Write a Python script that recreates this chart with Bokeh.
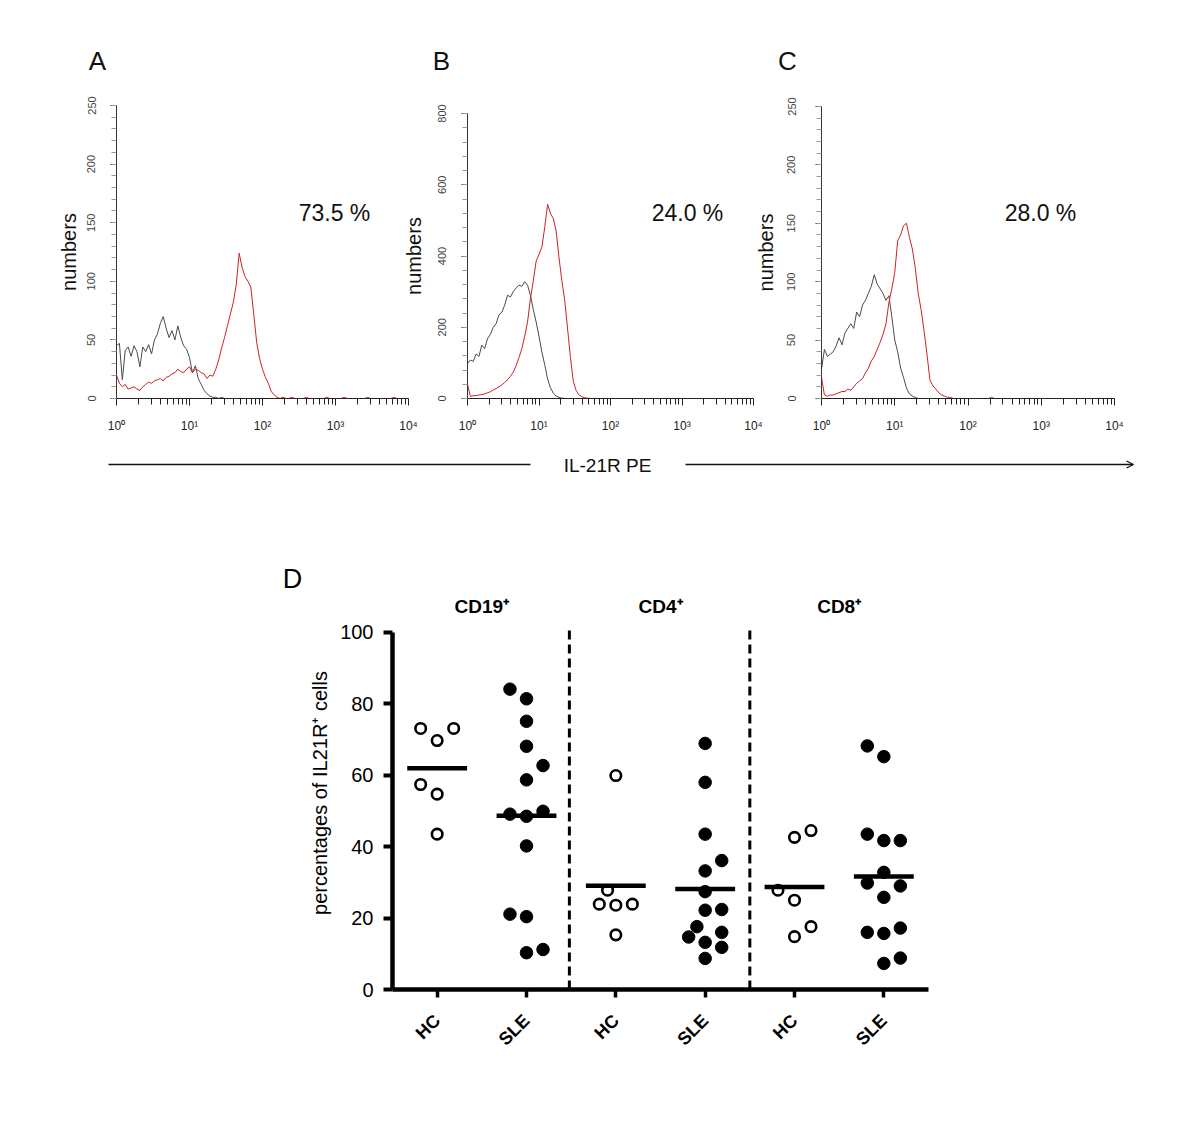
import numpy as np
from bokeh.plotting import figure
from bokeh.layouts import column, row
from bokeh.models import Range1d, FixedTicker, Label, Arrow, OpenHead, ColumnDataSource
from bokeh.embed import file_html
from bokeh.resources import INLINE

FONT = "Liberation Sans"

# ---------------- data: flow cytometry histograms ----------------
# channel bins of 0.04 decade from 10^0 to 10^4 (101 channels)
channel_log = [k * 0.04 for k in range(101)]

A_isotype = [45, 47, 16, 41, 44, 36, 45, 40, 27, 44,
             40, 46, 38, 50, 55, 64, 70, 60, 52, 58,
             50, 62, 52, 45, 42, 35, 22, 28, 17, 12,
             7, 4, 2, 1, 1, 0, 1, 0, 0, 0,
             0, 0, 0, 0, 0, 0, 0, 0, 0, 0,
             0, 0, 0, 0, 0, 0, 0, 0, 0, 0,
             0, 0, 0, 0, 0, 0, 0, 0, 0, 0,
             0, 0, 0, 0, 0, 0, 0, 0, 0, 0,
             0, 0, 0, 0, 0, 0, 0, 0, 0, 0,
             0, 0, 0, 0, 0, 0, 0, 0, 0, 0,
             0]
A_il21r = [20, 13, 10, 12, 8, 9, 10, 8, 7, 10,
           12, 14, 13, 15, 16, 17, 15, 18, 19, 21,
           22, 25, 23, 22, 25, 27, 22, 25, 24, 22,
           21, 17, 20, 19, 25, 33, 43, 52, 62, 72,
           82, 97, 124, 112, 104, 100, 95, 72, 48, 34,
           25, 18, 13, 6, 3, 1, 0, 1, 0, 0,
           1, 0, 0, 0, 0, 1, 0, 0, 0, 0,
           0, 0, 1, 0, 0, 0, 0, 0, 1, 0,
           0, 0, 0, 0, 0, 0, 1, 0, 0, 0,
           0, 0, 0, 0, 0, 1, 0, 0, 0, 0,
           0]
B_isotype = [98, 108, 104, 125, 118, 150, 140, 168, 180, 200,
             210, 235, 242, 262, 290, 285, 300, 310, 318, 315,
             328, 318, 290, 250, 215, 175, 130, 95, 55, 30,
             15, 7, 3, 1, 0, 0, 0, 0, 0, 0,
             0, 0, 0, 0, 0, 0, 0, 0, 0, 0,
             0, 0, 0, 0, 0, 0, 0, 0, 0, 0,
             0, 0, 0, 0, 0, 0, 0, 0, 0, 0,
             0, 0, 0, 0, 0, 0, 0, 0, 0, 0,
             0, 0, 0, 0, 0, 0, 0, 0, 0, 0,
             0, 0, 0, 0, 0, 0, 0, 0, 0, 0,
             0]
B_il21r = [40, 6, 8, 8, 10, 11, 13, 16, 19, 24,
           28, 33, 38, 45, 53, 62, 74, 92, 115, 140,
           175, 215, 280, 330, 385, 405, 425, 480, 545, 520,
           505, 470, 395, 330, 275, 195, 115, 48, 22, 10,
           5, 2, 1, 0, 0, 0, 0, 0, 0, 0,
           0, 0, 0, 0, 0, 0, 0, 0, 0, 0,
           0, 0, 0, 0, 0, 0, 0, 0, 0, 0,
           0, 0, 0, 0, 0, 0, 0, 0, 0, 0,
           0, 0, 0, 0, 0, 0, 0, 0, 0, 0,
           0, 0, 0, 0, 0, 0, 0, 0, 0, 0,
           0]
C_isotype = [25, 42, 36, 38, 40, 45, 52, 46, 56, 60,
             64, 60, 74, 70, 80, 84, 90, 96, 106, 98,
             94, 90, 84, 88, 70, 50, 40, 26, 18, 9,
             4, 2, 1, 0, 0, 0, 0, 0, 0, 0,
             0, 0, 0, 0, 0, 0, 0, 0, 0, 0,
             0, 0, 0, 0, 0, 0, 0, 0, 0, 0,
             0, 0, 0, 0, 0, 0, 0, 0, 0, 0,
             0, 0, 0, 0, 0, 0, 0, 0, 0, 0,
             0, 0, 0, 0, 0, 0, 0, 0, 0, 0,
             0, 0, 0, 0, 0, 0, 0, 0, 0, 0,
             0]
C_il21r = [18, 3, 2, 3, 3, 4, 5, 6, 6, 8,
           7, 10, 13, 15, 17, 22, 26, 32, 36, 42,
           48, 55, 64, 82, 94, 108, 135, 140, 148, 150,
           138, 128, 112, 90, 76, 58, 38, 16, 11, 8,
           5, 3, 2, 1, 1, 0, 0, 0, 0, 0,
           0, 0, 0, 0, 0, 0, 0, 0, 1, 0,
           0, 0, 0, 0, 0, 0, 0, 0, 0, 0,
           0, 0, 0, 0, 0, 0, 0, 0, 0, 0,
           0, 0, 0, 0, 0, 0, 0, 0, 0, 0,
           0, 0, 0, 0, 0, 0, 0, 0, 0, 0,
           0]

panel_letters = ["A", "B", "C"]
percent_texts = ["73.5 %", "24.0 %", "28.0 %"]
count_max = [250, 800, 250]
count_step = [50, 200, 50]
x_decade_labels = ["10⁰", "10¹", "10²", "10³", "10⁴"]
x_title = "IL-21R PE"
y_title_hist = "numbers"

# ---------------- data: percentages of IL21R+ cells ----------------
groups = ["HC", "SLE", "HC", "SLE", "HC", "SLE"]
subsets = ["CD19⁺", "CD4⁺", "CD8⁺"]
cd19_hc = [73.1, 73.1, 69.7, 57.4, 54.7, 43.5]
cd19_sle = [84.1, 81.4, 75.1, 68.1, 62.7, 58.7, 49.1, 49.9, 48.5, 40.2, 21.1, 20.4, 10.3, 11.2]
cd4_hc = [59.9, 27.8, 23.9, 23.6, 23.9, 15.3]
cd4_sle = [68.9, 58.0, 43.5, 36.1, 33.2, 27.4, 22.2, 22.4, 17.6, 14.7, 16.0, 13.2, 11.8, 8.7]
cd8_hc = [42.6, 44.5, 27.8, 25.0, 14.8, 17.6]
cd8_sle = [68.2, 65.2, 43.5, 41.7, 41.7, 32.8, 29.8, 29.0, 25.8, 16.0, 15.7, 17.2, 7.3, 8.8]
# horizontal scatter slot of every point (column-scatter layout)
cd19_hc_slot = [-1, 1, 0, -1, 0, 0]
cd19_sle_slot = [-1, 0, 0, 0, 1, 0, -1, 1, 0, 0, -1, 0, 0, 1]
cd4_hc_slot = [0, -0.5, -1, 0, 1, 0]
cd4_sle_slot = [0, 0, 0, 1, 0, 0, 0, 1, -0.5, -1, 1, 0, 1, 0]
cd8_hc_slot = [0, 1, -1, 0, 0, 1]
cd8_sle_slot = [-1, 0, -1, 0, 1, 0, -1, 1, 0, -1, 0, 1, 0, 1]
y_title_d = "percentages of IL21R⁺ cells"

ROW_TOP = 88      # page y where the histogram row starts
ROW_BOTTOM = 440  # page y where it ends
D_TOP = 596       # page y where panel D starts


def strip(top, bottom):
    """A frameless full-width canvas whose data coordinates equal page pixels."""
    p = figure(width=1184, height=bottom - top, x_range=Range1d(8, 1192), y_range=Range1d(bottom, top),
               min_border=0, output_backend="svg", toolbar_location=None,
               x_axis_location=None, y_axis_location=None)
    p.outline_line_color = None
    p.grid.visible = False
    return p


def hist_panel(idx, isotype, il21r, frame_left, frame_right, frame_top,
               canvas_left, canvas_right, tick_standoff, axis_label_standoff):
    ymax = count_max[idx]
    step = count_step[idx]
    frame_bottom = 398
    fw = frame_right - frame_left
    fh = frame_bottom - frame_top
    p = figure(width=canvas_right - canvas_left, height=ROW_BOTTOM - ROW_TOP,
               x_axis_type="log", x_range=Range1d(1, 1e4), y_range=Range1d(0, ymax),
               min_border_left=frame_left - canvas_left, min_border_right=canvas_right - frame_right,
               min_border_top=frame_top - ROW_TOP, min_border_bottom=ROW_BOTTOM - frame_bottom,
               output_backend="svg", toolbar_location=None)
    p.outline_line_color = None
    p.grid.visible = False
    p.background_fill_alpha = 0
    p.border_fill_alpha = 0

    xs = [10 ** v for v in channel_log]
    p.line(xs, isotype, line_color="#4a4a4a", line_width=1)
    p.line(xs, il21r, line_color="#cc2222", line_width=1)

    decades = [1, 10, 100, 1000, 10000]
    minors = [m * d for d in decades[:-1] for m in range(2, 10)]
    xa = p.xaxis[0]
    xa.ticker = FixedTicker(ticks=decades, minor_ticks=minors)
    xa.major_label_overrides = {d: lab for d, lab in zip(decades, x_decade_labels)}
    xa.major_label_text_font = FONT
    xa.major_label_text_font_size = "12px"
    xa.major_label_text_color = "#222222"
    xa.major_label_standoff = 13
    xa.axis_line_color = "#222222"
    xa.major_tick_line_color = "#222222"
    xa.minor_tick_line_color = "#222222"
    xa.major_tick_out = 7
    xa.major_tick_in = 0
    xa.minor_tick_out = 6
    xa.minor_tick_in = 0

    ya = p.yaxis[0]
    ya.ticker = FixedTicker(ticks=list(range(0, ymax + 1, step)),
                            minor_ticks=list(range(0, ymax + 1, step // 5)))
    ya.major_label_orientation = "vertical"
    ya.major_label_text_font = FONT
    ya.major_label_text_font_size = "11px"
    ya.major_label_text_color = "#444444"
    ya.major_label_standoff = tick_standoff
    ya.axis_line_color = "#333333"
    ya.major_tick_line_color = "#333333"
    ya.minor_tick_line_color = "#999999"
    ya.major_tick_out = 6
    ya.major_tick_in = 0
    ya.minor_tick_out = 5
    ya.minor_tick_in = 0
    ya.axis_label = y_title_hist
    ya.axis_label_text_font = FONT
    ya.axis_label_text_font_style = "normal"
    ya.axis_label_text_font_size = "20px"
    ya.axis_label_text_color = "#111111"
    ya.axis_label_standoff = axis_label_standoff

    tx = 10 ** (4 * ([334, 687, 1040][idx] - frame_left) / fw)
    ty = (frame_bottom - 212) * ymax / fh
    p.add_layout(Label(x=tx, y=ty, text=percent_texts[idx], text_font=FONT, text_font_size="23px",
                       text_align="center", text_baseline="middle", text_color="#111111"))
    return p


# ---------------- top strip with panel letters ----------------
pT = strip(8, ROW_TOP)
for letter, px in zip(panel_letters, [97, 441, 787]):
    pT.add_layout(Label(x=px, y=60, text=letter, text_font=FONT, text_font_size="26px",
                        text_align="center", text_baseline="middle", text_color="#111111"))

# ---------------- histogram row ----------------
pA = hist_panel(0, A_isotype, A_il21r, 116, 408, 105, 8, 420, 15, 5)
pB = hist_panel(1, B_isotype, B_il21r, 467, 753, 113, 395, 770, 16, 10)
pC = hist_panel(2, C_isotype, C_il21r, 821, 1114, 106, 748, 1130, 20, 8)
hist_row = row(column(pA), column(pB, margin=(0, 0, 0, -25)), column(pC, margin=(0, 0, 0, -22)))

# ---------------- middle strip: shared x title arrow and letter D ----------------
pS = strip(ROW_BOTTOM, D_TOP)
pS.segment(x0=[108], y0=[464], x1=[530], y1=[464], line_color="#111111", line_width=1.3)
pS.add_layout(Arrow(end=OpenHead(size=7, line_width=1.3, line_color="#111111"),
                    x_start=685, y_start=464, x_end=1133, y_end=464,
                    line_color="#111111", line_width=1.3))
pS.add_layout(Label(x=607, y=465, text=x_title, text_font=FONT, text_font_size="19px",
                    text_align="center", text_baseline="middle", text_color="#111111"))
pS.add_layout(Label(x=292, y=578, text="D", text_font=FONT, text_font_size="27px",
                    text_align="center", text_baseline="middle", text_color="black"))

# ---------------- panel D ----------------
D_BOTTOM = 989
PX_PER_UNIT = 3.5714
pD = figure(width=970, height=(D_BOTTOM - D_TOP) + 75,
            x_range=Range1d(0.5, 6.5), y_range=Range1d(0, (D_BOTTOM - D_TOP) / PX_PER_UNIT),
            min_border_left=384, min_border_right=50, min_border_top=0, min_border_bottom=75,
            output_backend="svg", toolbar_location=None)
pD.outline_line_color = None
pD.grid.visible = False

JIT = 0.185
series = [cd19_hc, cd19_sle, cd4_hc, cd4_sle, cd8_hc, cd8_sle]
slots = [cd19_hc_slot, cd19_sle_slot, cd4_hc_slot, cd4_sle_slot, cd8_hc_slot, cd8_sle_slot]

# separators between subsets
pD.segment(x0=[2.48, 4.5], y0=[0, 0], x1=[2.48, 4.5], y1=[101.6, 101.6],
           line_color="black", line_width=3, line_dash="9 5")

for i, (vals, sl) in enumerate(zip(series, slots), start=1):
    src = ColumnDataSource(dict(x=[i + s * JIT for s in sl], y=vals))
    if groups[i - 1] == "SLE":
        pD.scatter("x", "y", source=src, size=12.5, marker="circle",
                   fill_color="black", line_color="black", line_width=1)
    else:
        pD.scatter("x", "y", source=src, size=10.5, marker="circle",
                   fill_color="white", line_color="black", line_width=2.6)

pos = list(range(1, 7))
means = [float(np.mean(v)) for v in series]
pD.segment(x0=[x - 0.335 for x in pos], y0=means, x1=[x + 0.335 for x in pos], y1=means,
           line_color="black", line_width=4.5)

ya = pD.yaxis[0]
ya.ticker = FixedTicker(ticks=[0, 20, 40, 60, 80, 100])
ya.bounds = (0, 100)
ya.axis_line_width = 4.5
ya.major_tick_line_width = 4
ya.major_tick_out = 9
ya.major_tick_in = 0
ya.minor_tick_line_color = None
ya.major_label_text_font = FONT
ya.major_label_text_font_size = "20px"
ya.major_label_text_color = "black"
ya.major_label_standoff = 10
ya.axis_label = y_title_d
ya.axis_label_text_font = FONT
ya.axis_label_text_font_style = "normal"
ya.axis_label_text_font_size = "20px"
ya.axis_label_text_color = "black"
ya.axis_label_standoff = 6

xa = pD.xaxis[0]
xa.ticker = FixedTicker(ticks=pos)
xa.major_label_overrides = {x: g for x, g in zip(pos, groups)}
xa.major_label_orientation = np.pi / 4
xa.major_label_text_font = FONT
xa.major_label_text_font_size = "18px"
xa.major_label_text_font_style = "bold"
xa.major_label_text_color = "black"
xa.major_label_standoff = 20
xa.axis_line_width = 4.5
xa.major_tick_line_width = 3.5
xa.major_tick_out = 8
xa.major_tick_in = 0
xa.minor_tick_line_color = None

for k, s in enumerate(subsets):
    pD.add_layout(Label(x=1.5 + 2 * k, y=(D_BOTTOM - 606) / PX_PER_UNIT, text=s, text_font=FONT,
                        text_font_size="19px", text_font_style="bold", text_align="center",
                        text_baseline="middle", text_color="black"))

layout = column(row(pT), hist_row, row(pS), row(pD), margin=(8, 0, 0, 8))
open("out.html", "w").write(file_html(layout, INLINE))
